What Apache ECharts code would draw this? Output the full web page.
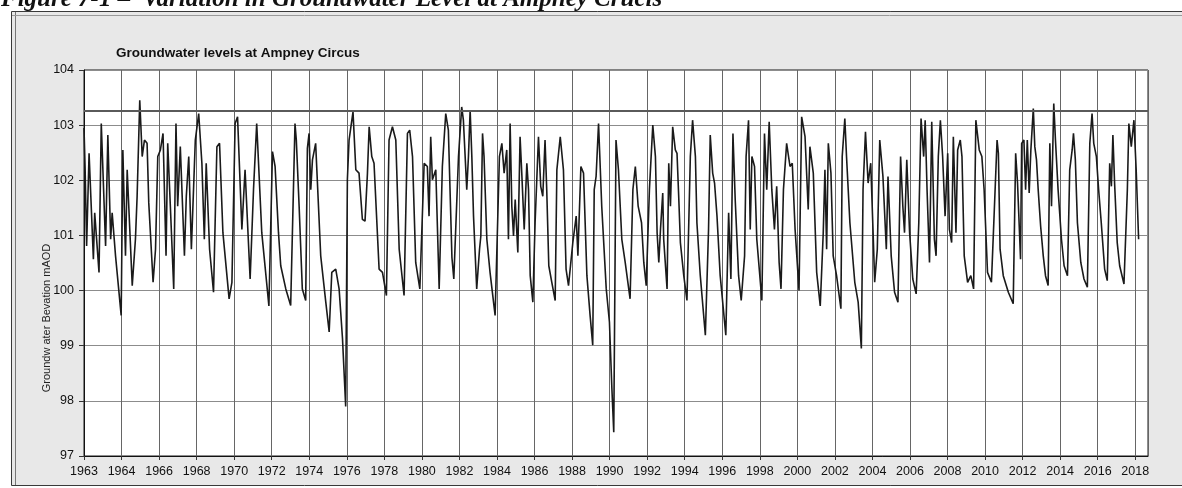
<!DOCTYPE html>
<html>
<head>
<meta charset="utf-8">
<script src="https://cdn.jsdelivr.net/npm/echarts@6/dist/echarts.min.js"></script>
<style>
  html, body { margin: 0; padding: 0; background: #ffffff; }
  #chart { width: 1182px; height: 488px; }
</style>
</head>
<body>
<div id="chart"></div>
<script>
// Axis tick labels (one per 2-year gridline, first one sits on the axis start)
const xStart = 1962;
const xEnd = 2018.68;
const tickLabels = ['1963', '1964', '1966', '1968', '1970', '1972', '1974', '1976', '1978',
  '1980', '1982', '1984', '1986', '1988', '1990', '1992', '1994', '1996', '1998', '2000',
  '2002', '2004', '2006', '2008', '2010', '2012', '2014', '2016', '2018'];

// Level marked across the chart (mAOD)
const refLevel = 103.27;

// Groundwater level readings, [decimal year, level mAOD]
const levels1962to1971 = [
  [1962.00, 102.95], [1962.06, 102.20], [1962.14, 100.81], [1962.27, 102.49], [1962.50, 100.57],
  [1962.57, 101.41], [1962.80, 100.33], [1962.92, 103.03], [1963.15, 100.81], [1963.27, 102.82],
  [1963.42, 100.93], [1963.50, 101.41], [1963.68, 100.63], [1963.98, 99.55], [1964.07, 102.55],
  [1964.21, 100.63], [1964.30, 102.19], [1964.57, 100.09], [1964.74, 100.93], [1964.83, 101.71],
  [1964.97, 103.45], [1965.10, 102.43], [1965.22, 102.73], [1965.36, 102.67], [1965.45, 101.59],
  [1965.68, 100.15], [1965.81, 100.75], [1965.93, 102.43], [1966.07, 102.55], [1966.21, 102.85],
  [1966.37, 100.63], [1966.46, 102.67], [1966.60, 101.53], [1966.78, 100.03], [1966.90, 103.03],
  [1966.99, 101.53], [1967.13, 102.61], [1967.35, 100.63], [1967.45, 101.71], [1967.58, 102.43],
  [1967.72, 100.75], [1967.93, 102.73], [1968.11, 103.21], [1968.28, 102.31], [1968.41, 100.93],
  [1968.51, 102.31], [1968.69, 100.75], [1968.90, 99.97], [1969.08, 102.61], [1969.22, 102.67],
  [1969.40, 101.05], [1969.73, 99.85], [1969.88, 100.15], [1970.05, 103.03], [1970.18, 103.15],
  [1970.41, 101.11], [1970.58, 102.19], [1970.85, 100.21], [1971.03, 101.83], [1971.20, 103.03],
  [1971.47, 101.05], [1971.85, 99.72]
];
const levels1972to1981 = [
  [1972.04, 102.52], [1972.18, 102.25], [1972.36, 101.05], [1972.48, 100.45], [1972.75, 100.03],
  [1973.01, 99.73], [1973.24, 103.03], [1973.31, 102.73], [1973.46, 101.53], [1973.63, 100.03],
  [1973.81, 99.82], [1973.90, 102.58], [1973.99, 102.85], [1974.08, 101.83], [1974.17, 102.37],
  [1974.34, 102.67], [1974.61, 100.63], [1974.88, 99.79], [1975.06, 99.25], [1975.20, 100.33],
  [1975.41, 100.39], [1975.59, 100.03], [1975.77, 99.13], [1975.94, 97.90], [1976.03, 102.01],
  [1976.12, 102.73], [1976.33, 103.24], [1976.48, 102.19], [1976.65, 102.13], [1976.83, 101.29],
  [1976.97, 101.26], [1977.10, 102.13], [1977.19, 102.97], [1977.33, 102.43], [1977.45, 102.31],
  [1977.72, 100.39], [1977.90, 100.33], [1978.11, 99.91], [1978.25, 102.73], [1978.43, 102.97],
  [1978.61, 102.73], [1978.79, 100.75], [1979.05, 99.91], [1979.23, 102.85], [1979.35, 102.91],
  [1979.50, 102.43], [1979.67, 100.51], [1979.89, 100.03], [1980.12, 102.31], [1980.29, 102.25],
  [1980.38, 101.35], [1980.47, 102.79], [1980.56, 102.01], [1980.74, 102.19], [1980.92, 100.03],
  [1981.09, 102.25], [1981.27, 103.21], [1981.41, 102.91], [1981.60, 100.60], [1981.70, 100.21]
];
const levels1982to1991 = [
  [1981.95, 102.43], [1982.12, 103.33], [1982.21, 103.09], [1982.39, 101.83], [1982.48, 102.43],
  [1982.57, 103.27], [1982.66, 102.43], [1982.75, 101.35], [1982.92, 100.03], [1983.07, 100.75],
  [1983.14, 100.99], [1983.23, 102.85], [1983.31, 102.43], [1983.46, 100.93], [1983.63, 100.33],
  [1983.90, 99.55], [1984.13, 102.43], [1984.26, 102.67], [1984.38, 102.13], [1984.52, 102.55],
  [1984.61, 100.93], [1984.70, 103.03], [1984.79, 101.53], [1984.88, 100.99], [1984.97, 101.65],
  [1985.11, 100.69], [1985.23, 102.79], [1985.32, 102.13], [1985.45, 101.11], [1985.59, 102.31],
  [1985.68, 101.83], [1985.77, 100.27], [1985.91, 99.79], [1986.03, 101.23], [1986.21, 102.79],
  [1986.33, 101.89], [1986.44, 101.71], [1986.56, 102.73], [1986.65, 101.83], [1986.76, 100.45],
  [1986.92, 100.15], [1987.10, 99.82], [1987.19, 102.19], [1987.37, 102.79], [1987.54, 102.19],
  [1987.68, 100.39], [1987.81, 100.09], [1988.04, 100.87], [1988.22, 101.35], [1988.31, 100.63],
  [1988.47, 102.25], [1988.61, 102.13], [1988.79, 100.27], [1988.96, 99.55], [1989.10, 99.01],
  [1989.18, 101.83], [1989.28, 102.07], [1989.41, 103.03], [1989.58, 101.53], [1989.82, 100.03],
  [1989.99, 99.43], [1990.12, 98.23], [1990.22, 97.43], [1990.34, 102.73], [1990.47, 102.19],
  [1990.56, 102.22], [1990.65, 100.93], [1990.83, 100.51], [1991.09, 99.85], [1991.24, 101.83],
  [1991.37, 102.25], [1991.52, 101.53], [1991.70, 101.23], [1991.82, 100.51], [1991.95, 100.09]
];
const levels1992to2001 = [
  [1992.12, 101.83], [1992.30, 103.00], [1992.44, 102.43], [1992.53, 101.05], [1992.62, 100.51],
  [1992.71, 101.11], [1992.83, 101.77], [1992.88, 100.93], [1993.06, 100.03], [1993.15, 102.31],
  [1993.24, 101.53], [1993.36, 102.97], [1993.50, 102.55], [1993.59, 102.49], [1993.68, 101.71],
  [1993.77, 100.87], [1993.95, 100.27], [1994.12, 99.82], [1994.30, 102.43], [1994.42, 103.09],
  [1994.57, 102.43], [1994.65, 101.23], [1994.83, 100.27], [1995.10, 99.19], [1995.27, 101.11],
  [1995.36, 102.82], [1995.49, 102.13], [1995.59, 101.95], [1995.72, 101.35], [1995.89, 100.27],
  [1996.19, 99.19], [1996.34, 101.41], [1996.46, 100.21], [1996.57, 102.85], [1996.69, 101.65],
  [1996.87, 100.27], [1997.01, 99.82], [1997.19, 100.63], [1997.27, 102.43], [1997.40, 103.09],
  [1997.49, 101.11], [1997.58, 102.43], [1997.72, 102.25], [1997.84, 100.93], [1998.11, 99.82],
  [1998.25, 102.85], [1998.37, 101.83], [1998.50, 103.06], [1998.64, 101.83], [1998.78, 101.11],
  [1998.90, 101.89], [1999.03, 100.51], [1999.13, 100.03], [1999.26, 101.83], [1999.43, 102.67],
  [1999.61, 102.25], [1999.73, 102.31], [1999.88, 101.11], [2000.09, 100.00], [2000.23, 103.15],
  [2000.41, 102.79], [2000.58, 101.47], [2000.67, 102.61], [2000.85, 102.13], [2001.03, 100.33],
  [2001.22, 99.72]
];
const levels2001to2011 = [
  [2001.38, 101.05], [2001.47, 102.19], [2001.56, 100.75], [2001.65, 102.67], [2001.79, 102.13],
  [2001.91, 100.63], [2002.09, 100.27], [2002.32, 99.67], [2002.39, 102.43], [2002.53, 103.12],
  [2002.62, 102.43], [2002.80, 101.23], [2003.06, 100.15], [2003.24, 99.79], [2003.41, 98.95],
  [2003.50, 101.83], [2003.63, 102.88], [2003.77, 101.95], [2003.91, 102.31], [2004.03, 101.11],
  [2004.12, 100.15], [2004.26, 100.75], [2004.39, 102.73], [2004.56, 102.07], [2004.74, 100.75],
  [2004.83, 102.07], [2005.00, 100.63], [2005.18, 99.97], [2005.36, 99.79], [2005.50, 102.43],
  [2005.62, 101.53], [2005.71, 101.05], [2005.83, 102.37], [2005.98, 101.05], [2006.15, 100.21],
  [2006.33, 99.94], [2006.47, 101.23], [2006.59, 103.12], [2006.73, 102.43], [2006.81, 103.09],
  [2006.91, 101.83], [2007.04, 100.51], [2007.16, 103.06], [2007.30, 100.93], [2007.39, 100.63],
  [2007.51, 102.43], [2007.62, 103.09], [2007.74, 102.43], [2007.87, 101.35], [2008.01, 102.49],
  [2008.10, 101.11], [2008.22, 100.87], [2008.31, 102.79], [2008.45, 101.05], [2008.54, 102.55],
  [2008.68, 102.73], [2008.77, 102.43], [2008.89, 100.63], [2009.07, 100.15], [2009.24, 100.27],
  [2009.39, 100.03], [2009.51, 103.09], [2009.69, 102.55], [2009.83, 102.43], [2009.95, 101.83],
  [2010.13, 100.33], [2010.34, 100.15], [2010.48, 101.35], [2010.64, 102.73], [2010.71, 102.49],
  [2010.80, 100.75], [2010.97, 100.27], [2011.24, 99.97], [2011.50, 99.76], [2011.63, 102.49],
  [2011.73, 101.95], [2011.89, 100.57], [2011.95, 102.67]
];
const levels2012to2018 = [
  [2012.07, 102.73], [2012.16, 101.83], [2012.25, 102.73], [2012.35, 101.77], [2012.44, 102.55],
  [2012.57, 103.30], [2012.65, 102.61], [2012.74, 102.37], [2012.83, 101.83], [2012.96, 101.17],
  [2013.10, 100.63], [2013.22, 100.27], [2013.36, 100.09], [2013.45, 102.67], [2013.54, 101.53],
  [2013.66, 103.39], [2013.75, 102.73], [2013.89, 101.83], [2014.07, 100.93], [2014.21, 100.45],
  [2014.39, 100.27], [2014.51, 102.19], [2014.64, 102.55], [2014.71, 102.85], [2014.81, 102.37],
  [2014.92, 101.23], [2015.10, 100.51], [2015.27, 100.21], [2015.45, 100.06], [2015.58, 102.67],
  [2015.70, 103.21], [2015.79, 102.67], [2015.93, 102.43], [2016.05, 101.83], [2016.19, 101.23],
  [2016.37, 100.39], [2016.51, 100.18], [2016.64, 102.31], [2016.73, 101.89], [2016.81, 102.82],
  [2016.90, 101.95], [2017.04, 100.87], [2017.17, 100.45], [2017.40, 100.12], [2017.58, 101.83],
  [2017.66, 103.03], [2017.79, 102.61], [2017.93, 103.09], [2018.05, 102.19], [2018.18, 100.93]
];

const allLevels = [].concat(levels1962to1971, levels1972to1981, levels1982to1991,
  levels1992to2001, levels2001to2011, levels2012to2018);

const narrowFont = "'Liberation Sans Narrow', 'Arial Narrow', 'Liberation Sans', sans-serif";

const chart = echarts.init(document.getElementById('chart'), null, { renderer: 'canvas' });

chart.setOption({
  animation: false,
  backgroundColor: '#ffffff',
  graphic: [
    // grey chart panel with its frame
    {
      type: 'rect', z: -20, silent: true,
      shape: { x: 11.5, y: 11.5, width: 1175, height: 474 },
      style: { fill: '#e8e8e8', stroke: '#3a3a3a', lineWidth: 1 }
    },
    {
      type: 'line', z: -19, silent: true,
      shape: { x1: 15.5, y1: 12, x2: 15.5, y2: 485 },
      style: { stroke: '#777', lineWidth: 1 }
    },
    {
      type: 'line', z: -19, silent: true,
      shape: { x1: 12, y1: 15.5, x2: 1182, y2: 15.5 },
      style: { stroke: '#9a9a9a', lineWidth: 1 }
    },
    // figure caption running off the top of the page
    {
      type: 'text', silent: true,
      x: 1, y: -13,
      style: {
        text: 'Figure 7-1 \u2013  Variation in Groundwater Level at Ampney Crucis',
        font: 'bold italic 25px "Liberation Serif", "Times New Roman", serif',
        fill: '#111',
        verticalAlign: 'top'
      }
    },
    // chart title
    {
      type: 'text', silent: true,
      x: 116, y: 53,
      style: {
        text: 'Groundwater levels at Ampney Circus',
        font: 'bold 13.5px "Liberation Sans", Arial, sans-serif',
        fill: '#111',
        verticalAlign: 'middle'
      }
    },
    // y axis title
    {
      type: 'text', silent: true,
      x: 47, y: 318, rotation: Math.PI / 2,
      style: {
        text: 'Groundw ater Bevation mAOD',
        font: '11px ' + narrowFont,
        fill: '#222',
        align: 'center',
        verticalAlign: 'middle'
      }
    }
  ],
  grid: {
    left: 84, right: 34, top: 70, bottom: 32,
    show: true, backgroundColor: '#ffffff', borderColor: '#1a1a1a', borderWidth: 1
  },
  xAxis: {
    type: 'value',
    min: xStart, max: xEnd, interval: 2,
    axisLine: { show: true, lineStyle: { color: '#111', width: 1 } },
    axisTick: { show: true, length: 4, lineStyle: { color: '#333' } },
    axisLabel: {
      color: '#111', fontSize: 12.5, fontFamily: narrowFont, margin: 9,
      showMaxLabel: false,
      formatter: function (v) {
        const i = Math.round((v - xStart) / 2);
        if (Math.abs(v - xStart - 2 * i) > 1e-6) return '';
        return tickLabels[i] || '';
      }
    },
    splitLine: { show: true, lineStyle: { color: '#666', width: 1 } }
  },
  yAxis: {
    type: 'value',
    min: 97, max: 104, interval: 1,
    axisLine: { show: true, lineStyle: { color: '#111', width: 1 } },
    axisTick: { show: true, length: 5, lineStyle: { color: '#333' } },
    axisLabel: { color: '#111', fontSize: 12.5, fontFamily: narrowFont, margin: 10 },
    splitLine: { show: true, lineStyle: { color: '#8c8c8c', width: 1 } }
  },
  series: [{
    type: 'line',
    data: allLevels,
    showSymbol: false,
    symbol: 'none',
    lineStyle: { color: '#1a1a1a', width: 1.6 },
    markLine: {
      silent: true,
      symbol: 'none',
      label: { show: false },
      lineStyle: { color: '#5a5a5a', width: 2, type: 'solid' },
      data: [{ yAxis: refLevel }]
    }
  }]
});
</script>
</body>
</html>
